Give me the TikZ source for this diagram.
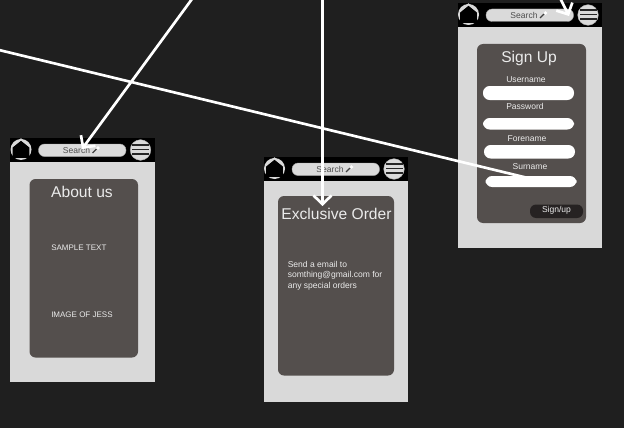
\documentclass[tikz,border=0pt]{standalone}
\usepackage{fontspec}
\setmainfont{Liberation Sans}
\usetikzlibrary{arrows.meta}
\definecolor{bgc}{HTML}{1F1F1F}
\definecolor{panel}{HTML}{D9D9D9}
\definecolor{cardc}{HTML}{544F4D}
\definecolor{pill}{HTML}{DADADA}
\definecolor{darkbtn}{HTML}{262222}
\tikzset{
  x=0.75pt,y=-0.75pt,
  body/.style={fill=panel,draw=none},
  head/.style={fill=black,draw=none},
  cardbox/.style={fill=cardc,draw=none,rounded corners=4.5pt},
  title/.style={text=white!92!black,inner sep=0pt,font=\fontsize{11.7pt}{14pt}\selectfont},
  small/.style={text=white!92!black,inner sep=0pt,font=\fontsize{6.4pt}{7.9pt}\selectfont},
  caps/.style={text=white!92!black,inner sep=0pt,font=\fontsize{6pt}{7.9pt}\selectfont},
  field/.style={fill=white,draw=none,rounded corners=5pt},
  link/.style={draw=white,line width=2pt,-{Straight Barb[length=6.5pt,width=13.5pt,line width=2pt]}},
  searchlbl/.style={text=black!70,inner sep=0pt,font=\fontsize{6.4pt}{7pt}\selectfont},
}
% #1 = left, #2 = top, #3 = bottom of the phone
\newcommand{\phoneframe}[3]{%
  \fill[body] (#1,#2+22) rectangle (#1+144.5,#3);
  \fill[head] (#1,#2) rectangle (#1+144.5,#2+24);
  % home icon
  \fill[panel] (#1+11,#2+11.5) circle[radius=10.5];
  \fill[panel] (#1+3,#2+6) -- (#1+11,#2+0.3) -- (#1+19,#2+6) -- cycle;
  \fill[black] (#1+11,#2+2.8) -- (#1+19.3,#2+9.5) -- (#1+19.3,#2+19.8) -- (#1+2.7,#2+19.8) -- (#1+2.7,#2+9.5) -- cycle;
  % search pill
  \fill[pill,draw=black!35,line width=0.3pt,rounded corners=4.5pt] (#1+28.5,#2+6) rectangle (#1+116,#2+18.5);
  \node[searchlbl] at (#1+66.5,#2+12) {Search};
  \fill[black!75] (#1+82,#2+14.5) -- (#1+86,#2+10.6) -- (#1+87,#2+11.5) -- (#1+83,#2+15.3) -- cycle;
  \fill[white] (#1+88,#2+10) circle[radius=1.8];
  % menu icon
  \fill[pill,draw=black!30,line width=0.3pt] (#1+130.5,#2+12) circle[radius=10.3];
  \foreach \yy in {5.9,10.6,15.3}{\fill[black!85] (#1+122,#2+\yy) rectangle (#1+139,#2+\yy+1.8);}
}
\begin{document}
\begin{tikzpicture}
\useasboundingbox (0,0) rectangle (624,428);
\fill[bgc] (0,0) rectangle (624,428);

\phoneframe{10}{138}{382}
\phoneframe{263.5}{157}{401.5}
\phoneframe{457.5}{3}{247.5}

% cards
\fill[cardbox] (29.5,179) rectangle (138,357.5);
\fill[cardbox] (278,196) rectangle (394,375.5);
\fill[cardbox] (477,44) rectangle (586,223);

% About us
\node[title] (about) at (82,191.5) {About us};
\node[caps,anchor=west] (sample) at (51,247.5) {SAMPLE TEXT};
\node[caps,anchor=west] (jess) at (51,314.5) {IMAGE OF JESS};

% Exclusive order
\node[title] (excl) at (336.5,213.5) {Exclusive Order};
\node[small,anchor=north west,align=left] (mailtxt) at (287.5,261) {Send a email to\\somthing@gmail.com for\\any special orders};

% Sign up
\node[title] (signup) at (529,58.5) {Sign Up};
\node[small] (lu) at (526,79.5) {Username};
\fill[field] (483,86) rectangle (574,100);
\node[small] (lp) at (525,106) {Password};
\fill[field] (483,118) rectangle (574,129.5);
\node[small] (lf) at (527,139) {Forename};
\fill[field] (484,145) rectangle (575,158.5);
\node[small] (ls) at (530,167) {Surname};
\fill[field] (485.5,176) rectangle (576.5,187);
\fill[darkbtn,rounded corners=4.5pt] (530,204.5) rectangle (583,218);
\node[small] (btn) at (556.5,210.5) {Sign/up};

% connectors
\coordinate (s1) at (192,-1);
\coordinate (e1) at (82,149);
\coordinate (s2) at (322.5,-1);
\coordinate (e2) at (322.5,206);
\coordinate (s3) at (-1,50);
\coordinate (e3) at (530,178.5);
\coordinate (s4) at (558,-6);
\coordinate (e4) at (569,16);
\draw[link] (s1) -- (e1);
\draw[link] (s2) -- (e2);
\draw[draw=white,line width=2pt] (s3) -- (e3);
\draw[link] (s4) -- (e4);
\end{tikzpicture}
\end{document}
